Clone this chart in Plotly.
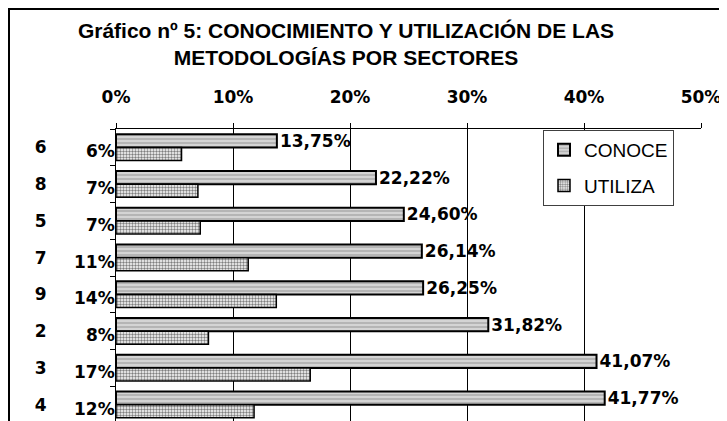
import plotly.graph_objects as go

# sectors, top to bottom as in the chart
sectores = ["6", "8", "5", "7", "9", "2", "3", "4"]
conoce = [13.75, 22.22, 24.60, 26.14, 26.25, 31.82, 41.07, 41.77]
utiliza = [5.6, 7.0, 7.2, 11.3, 13.7, 7.9, 16.6, 11.8]
eje_x = [0, 10, 20, 30, 40, 50]
eje_x_txt = ["0%", "10%", "20%", "30%", "40%", "50%"]

# page has an 8px body margin, so figure coords = screen coords - 8
W, H = 727, 421
# frame box (figure px): left, top, right
FL, FT, FR = 2, 2, 712
# plot area (figure px)
PL, PT, PR, PB = 108, 121, 693, 415

fw = FR - FL
fh = H - FT


def px(v):
    return (v - FL) / fw


def py(v):
    return (H - v) / fh


bold = dict(family="DejaVu Sans", size=17, color="black", weight="bold")

fig = go.Figure()

fig.add_trace(go.Bar(
    y=sectores, x=conoce, orientation="h", name="CONOCE",
    legendgroup="a",
    marker=dict(color="#c8c8c8", line=dict(color="black", width=2),
                pattern=dict(shape="-", fgcolor="#7a7a7a", bgcolor="#d4d4d4",
                             size=4, solidity=0.35)),
    text=[f"{v:.2f}%".replace(".", ",") for v in conoce],
    textposition="outside", textfont=bold, constraintext="none",
    cliponaxis=False,
))
fig.add_trace(go.Bar(
    y=sectores, x=utiliza, orientation="h", name="UTILIZA",
    legendgroup="b",
    marker=dict(color="white", line=dict(color="black", width=1.5),
                pattern=dict(shape=".", fgcolor="black", bgcolor="white",
                             size=3, solidity=0.5)),
))
# empty traces that carry the outer frame axes (left/top and right)
fig.add_trace(go.Scatter(x=[None], y=[None], xaxis="x2", yaxis="y2",
                         showlegend=False, hoverinfo="skip"))
fig.add_trace(go.Scatter(x=[None], y=[None], xaxis="x2", yaxis="y3",
                         showlegend=False, hoverinfo="skip"))

# utiliza labels sit left of the axis (y by category index)
for i, v in enumerate(utiliza):
    fig.add_annotation(x=0, y=i, xref="x", yref="y", text=f"{round(v)}%",
                       showarrow=False, xanchor="right", xshift=1, yshift=-4,
                       font=bold)

frame_ax = dict(range=[0, 1], showline=True, linecolor="black", linewidth=1.5,
                showgrid=False, zeroline=False, showticklabels=False,
                ticks="", fixedrange=True)

fig.update_layout(
    width=W, height=H,
    margin=dict(l=FL, r=W - FR, t=FT, b=0, autoexpand=False),
    paper_bgcolor="white", plot_bgcolor="rgba(0,0,0,0)",
    title=dict(text="Gráfico nº 5: CONOCIMIENTO Y UTILIZACIÓN DE LAS<br>METODOLOGÍAS POR SECTORES",
               x=338 / W, xref="container", xanchor="center",
               y=1 - 30 / H, yref="container", yanchor="top",
               font=dict(family="Liberation Sans", size=21, color="black", weight="bold")),
    barmode="group", bargap=0.29, bargroupgap=0,
    legend=dict(x=px(535), y=py(PT + 1), xanchor="left", yanchor="top",
                bgcolor="white", bordercolor="#404040", borderwidth=1,
                font=dict(family="Liberation Sans", size=19, color="black"),
                traceorder="grouped", tracegroupgap=8),
    showlegend=True,
    xaxis=dict(side="top", range=[0, 50], domain=[px(PL), px(PR)],
               tickvals=eje_x, ticktext=eje_x_txt,
               tickfont=bold, ticks="outside", ticklen=5, tickcolor="black",
               showline=True, linecolor="black", linewidth=1,
               showgrid=True, gridcolor="black", gridwidth=1,
               zeroline=False, ticklabelstandoff=13, automargin=False),
    yaxis=dict(type="category", range=[7.5, -0.5], domain=[py(PB), py(PT)],
               tickfont=bold, ticks="outside", ticklen=5, tickcolor="black",
               tickson="boundaries",
               showline=True, linecolor="black", linewidth=1,
               showgrid=False, ticklabelstandoff=65, automargin=False),
    xaxis2=dict(frame_ax, domain=[0, 1], anchor="y2", side="top"),
    yaxis2=dict(frame_ax, domain=[0, 1], anchor="x2", side="left"),
    yaxis3=dict(frame_ax, anchor="x2", overlaying="y2", side="right"),
)

fig.write_html("out.html")
